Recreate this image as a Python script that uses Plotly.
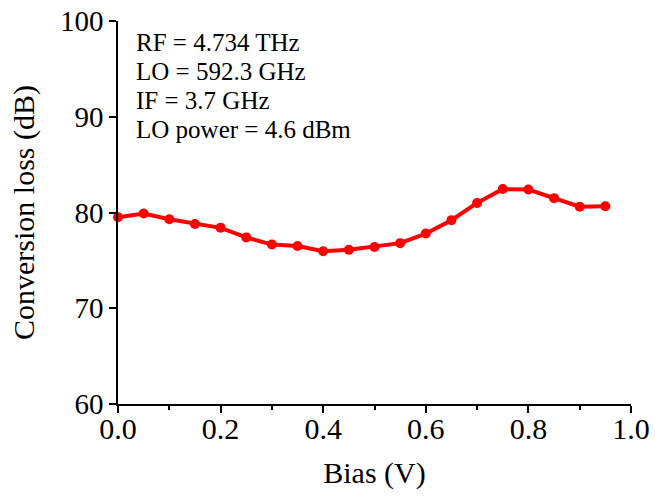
import plotly.graph_objects as go

bias = [0.00, 0.05, 0.10, 0.15, 0.20, 0.25, 0.30, 0.35, 0.40, 0.45,
        0.50, 0.55, 0.60, 0.65, 0.70, 0.75, 0.80, 0.85, 0.90, 0.95]
conv_loss = [79.5, 79.9, 79.3, 78.8, 78.4, 77.4, 76.65, 76.5, 75.95, 76.1,
             76.4, 76.8, 77.8, 79.2, 81.0, 82.45, 82.4, 81.5, 80.6, 80.65]

x_ticks = [0.0, 0.2, 0.4, 0.6, 0.8, 1.0]
x_tick_labels = ["0.0", "0.2", "0.4", "0.6", "0.8", "1.0"]
y_ticks = [60, 70, 80, 90, 100]

notes = ["RF = 4.734 THz", "LO = 592.3 GHz", "IF = 3.7 GHz", "LO power = 4.6 dBm"]

FONT = "Liberation Serif, Times New Roman, serif"

W, H = 655, 499
plot_left, plot_right, plot_top, plot_bottom = 118, 631, 21, 404  # window pixels

fig = go.Figure()
fig.add_trace(go.Scatter(
    x=bias, y=conv_loss, mode="lines+markers",
    line=dict(color="#ff0000", width=4),
    marker=dict(color="#ff0000", size=10),
    showlegend=False, cliponaxis=False,
))

for i, t in enumerate(notes):
    py = 43 + i * 28.8
    fig.add_annotation(
        x=0.031, y=(plot_bottom - py) / (plot_bottom - plot_top),
        xref="paper", yref="paper", xanchor="left", yanchor="middle",
        text=t, showarrow=False,
        font=dict(family=FONT, size=25, color="black"),
    )

fig.update_layout(
    width=W, height=H,
    margin=dict(l=plot_left, r=W - plot_right, t=plot_top,
                b=H - plot_bottom, autoexpand=False),
    plot_bgcolor="white", paper_bgcolor="white",
    font=dict(family=FONT, color="black"),
    xaxis=dict(
        range=[0, 1.0], tickvals=x_ticks, ticktext=x_tick_labels,
        ticks="outside", ticklen=7, tickwidth=1.5, tickcolor="black",
        minor=dict(ticks="outside", ticklen=4, tickwidth=1.5, dtick=0.1, tickcolor="black", showgrid=False),
        showline=True, linecolor="black", linewidth=1.5, mirror=False,
        showgrid=False, zeroline=False, automargin=False,
        ticklabelstandoff=-10, ticklabeloverflow="allow",
        tickfont=dict(family=FONT, size=30, color="black"),
        title=dict(text="Bias (V)", font=dict(family=FONT, size=30, color="black"), standoff=18),
    ),
    yaxis=dict(
        range=[60, 100], tickvals=y_ticks,
        ticks="outside", ticklen=7, tickwidth=1.5, tickcolor="black",
        showline=True, linecolor="black", linewidth=1.5, mirror=False,
        showgrid=False, zeroline=False, automargin=False,
        ticklabeloverflow="allow",
        tickfont=dict(family=FONT, size=29, color="black"),
        title=dict(text="Conversion loss (dB)", font=dict(family=FONT, size=30, color="black"), standoff=16),
    ),
)

fig.write_html("out.html", config={"displayModeBar": False},
               post_script="document.body.style.margin='0';")
